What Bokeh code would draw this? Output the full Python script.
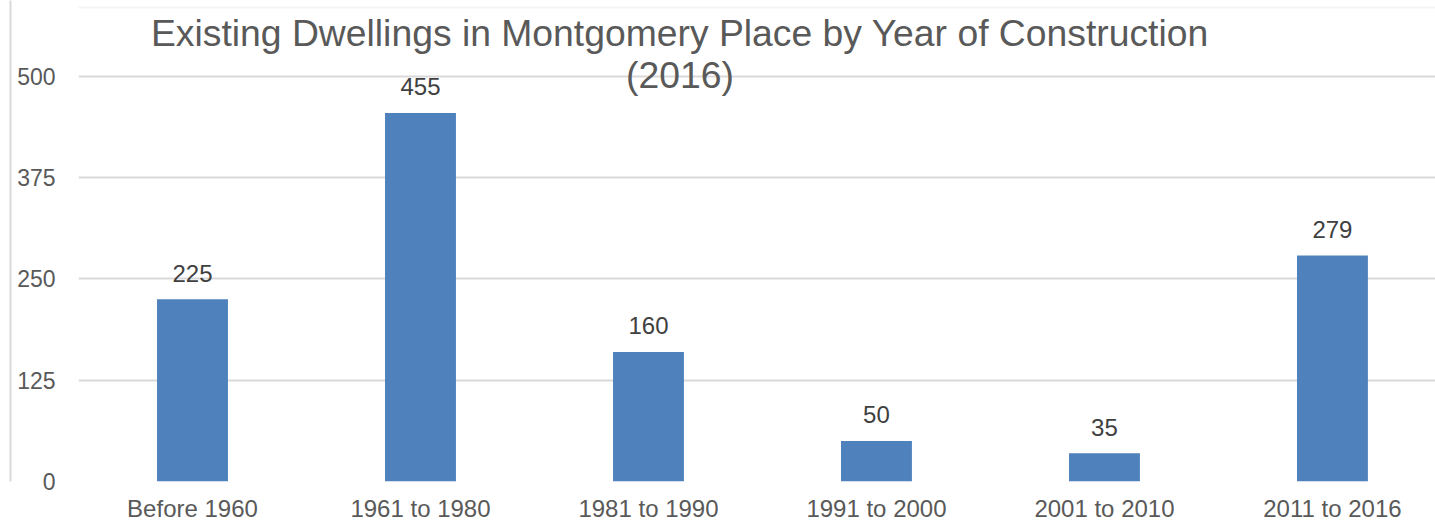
from bokeh.plotting import figure
from bokeh.models import Range1d, FixedTicker, Label, ColumnDataSource, BoxAnnotation, LinearAxis
from bokeh.embed import file_html
from bokeh.resources import INLINE
from bokeh.core.properties import value

categories = ["Before 1960", "1961 to 1980", "1981 to 1990", "1991 to 2000", "2001 to 2010", "2011 to 2016"]
dwellings = [225, 455, 160, 50, 35, 279]
y_ticks = [0, 125, 250, 375, 500]
title_line1 = "Existing Dwellings in Montgomery Place by Year of Construction"
title_line2 = "(2016)"

FONT = "Liberation Sans"
xs = [i + 0.5 for i in range(len(categories))]

p = figure(width=1435, height=525, output_backend="svg", toolbar_location=None,
           x_range=Range1d(0, 5.952), y_range=Range1d(0, 593.8),
           min_border_left=78, min_border_right=0, min_border_top=0, min_border_bottom=44)
p.outline_line_color = None
p.background_fill_color = "white"
p.border_fill_color = "white"

src = ColumnDataSource(dict(x=xs, top=dwellings, lab=[str(v) for v in dwellings]))
p.vbar(x="x", top="top", width=0.311, source=src, fill_color="#4F81BD", line_color=None)
p.text(x="x", y="top", text="lab", source=src, y_offset=-26, text_align="center",
       text_baseline="alphabetic", text_font=value(FONT), text_font_size="24px", text_color="#404040")

p.xgrid.grid_line_color = None
p.ygrid.grid_line_color = "#d9d9d9"
p.ygrid.grid_line_width = 2
p.yaxis.ticker = FixedTicker(ticks=y_ticks)
p.xaxis.ticker = FixedTicker(ticks=xs)
p.xaxis.major_label_overrides = {x: c for x, c in zip(xs, categories)}

for ax in (p.xaxis, p.yaxis):
    ax.axis_line_color = None
    ax.major_tick_line_color = None
    ax.minor_tick_line_color = None
    ax.major_label_text_font = FONT
    ax.major_label_text_color = "#595959"
p.xaxis.major_label_text_font_size = "24px"
p.yaxis.major_label_text_font_size = "23px"
p.yaxis.major_label_standoff = 17
p.yaxis.axis_label = " "
p.yaxis.axis_label_text_font_size = "1px"
p.yaxis.axis_label_standoff = 0
p.xaxis.major_label_standoff = 7

# outer chart-area border: left edge as an unlabeled outer axis line, top edge as a box edge
border_axis = LinearAxis(ticker=FixedTicker(ticks=[]), axis_line_color="#d9d9d9", axis_line_width=2,
                         major_tick_line_color=None, minor_tick_line_color=None,
                         major_label_text_font_size="0px")
p.add_layout(border_axis, "left")
p.add_layout(BoxAnnotation(left=10, right=1460, top=7, bottom=560,
                           left_units="canvas", right_units="canvas",
                           top_units="canvas", bottom_units="canvas",
                           fill_color=None, line_color="#d9d9d9", line_width=2))

p.add_layout(Label(x=2.638, y=553.7, text=title_line1, text_align="center", text_baseline="alphabetic",
                   text_font=FONT, text_font_size="37.3px", text_color="#595959"))
p.add_layout(Label(x=2.638, y=501.9, text=title_line2, text_align="center", text_baseline="alphabetic",
                   text_font=FONT, text_font_size="37.3px", text_color="#595959"))

open("out.html", "w").write(file_html(p, INLINE))
